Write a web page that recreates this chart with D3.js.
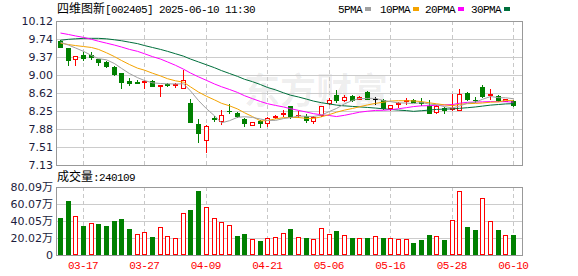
<!DOCTYPE html>
<html>
<head>
<meta charset="utf-8">
<script src="https://cdn.jsdelivr.net/npm/d3@7"></script>
<style>
  body { margin: 0; background: #fff; }
  svg { display: block; }
</style>
</head>
<body>
<svg id="chart" width="578" height="276"></svg>
<script>
// ---- data ----
const dates = ["03-12","03-13","03-14","03-17","03-18","03-19","03-20","03-21","03-24","03-25",
  "03-26","03-27","03-28","03-31","04-01","04-02","04-03","04-07","04-08","04-09",
  "04-10","04-11","04-14","04-15","04-16","04-17","04-18","04-21","04-22","04-23",
  "04-24","04-25","04-28","04-29","04-30","05-06","05-07","05-08","05-09","05-12",
  "05-13","05-14","05-15","05-16","05-19","05-20","05-21","05-22","05-23","05-26",
  "05-27","05-28","05-29","05-30","06-03","06-04","06-05","06-06","06-09","06-10"];

const open  = [9.70,9.55,9.33,9.42,9.41,9.33,9.26,9.16,9.03,8.87, 8.86,8.86,8.87,8.77,8.81,8.80,8.73,8.41,7.99,7.65,
  8.10,8.04,8.26,8.22,8.09,7.97,8.04,8.01,8.12,8.18, 8.35,8.16,8.14,8.04,8.17,8.42,8.59,8.49,8.56,8.51,
  8.64,8.50,8.49,8.32,8.39,8.46,8.49,8.43,8.36,8.24, 8.32,8.29,8.28,8.62,8.48,8.75,8.58,8.57,8.46,8.46];
const high  = [9.72,9.56,9.40,9.47,9.48,9.34,9.29,9.19,9.05,8.94, 8.90,8.89,8.90,8.80,8.83,8.84,9.10,8.51,8.08,7.96,
  8.15,8.28,8.39,8.24,8.10,8.02,8.07,8.12,8.16,8.28, 8.36,8.25,8.18,8.14,8.36,8.52,8.68,8.58,8.58,8.56,
  8.66,8.55,8.51,8.38,8.44,8.52,8.50,8.53,8.47,8.37, 8.34,8.61,8.70,8.64,8.54,8.80,8.70,8.59,8.51,8.48];
const low   = [9.57,9.20,9.20,9.31,9.34,9.20,9.17,8.99,8.72,8.79, 8.83,8.72,8.76,8.56,8.76,8.75,8.72,8.02,7.60,7.41,
  8.04,7.99,8.22,8.12,7.93,7.96,7.92,7.93,8.11,8.15, 8.11,8.12,8.03,8.01,8.15,8.40,8.44,8.46,8.46,8.50,
  8.50,8.40,8.30,8.28,8.34,8.40,8.43,8.37,8.21,8.22, 8.22,8.27,8.27,8.49,8.44,8.54,8.51,8.46,8.45,8.35];
const close = [9.59,9.30,9.40,9.36,9.37,9.26,9.18,9.01,8.86,8.83, 8.84,8.88,8.77,8.79,8.80,8.82,8.90,8.03,7.79,7.95,
  8.09,8.17,8.25,8.14,8.01,8.02,8.00,8.11,8.14,8.20, 8.12,8.17,8.07,8.13,8.35,8.49,8.48,8.55,8.48,8.55,
  8.50,8.50,8.31,8.37,8.42,8.48,8.44,8.42,8.21,8.36, 8.28,8.31,8.61,8.51,8.47,8.57,8.60,8.49,8.50,8.37];
const volume = [440000,640000,459000,342000,377000,365000,342000,400000,424000,306000,
  247000,271000,212000,330000,224000,200000,495000,530000,754000,565000,
  436000,389000,353000,224000,247000,188000,165000,200000,212000,259000,
  306000,212000,200000,188000,318000,247000,283000,236000,200000,200000,
  200000,224000,200000,200000,188000,188000,141000,177000,236000,224000,
  177000,412000,754000,330000,294000,671000,400000,294000,236000,240109];

const ma5  = [9.68,9.62,9.56,9.49,9.404,9.338,9.314,9.236,9.136,9.028, 8.944,8.884,8.836,8.822,8.816,8.812,8.816,8.668,8.468,8.298,
  8.152,8.006,8.05,8.12,8.132,8.118,8.084,8.056,8.056,8.094, 8.114,8.148,8.14,8.138,8.168,8.242,8.304,8.40,8.47,8.51,
  8.512,8.516,8.468,8.446,8.42,8.416,8.404,8.426,8.394,8.382, 8.342,8.316,8.354,8.414,8.436,8.494,8.552,8.528,8.526,8.506];
const ma10 = [9.66,9.63,9.61,9.59,9.57,9.53,9.46,9.38,9.30,9.216, 9.141,9.099,9.036,8.979,8.922,8.878,8.85,8.752,8.645,8.557,
  8.482,8.411,8.359,8.294,8.215,8.135,8.045,8.053,8.088,8.113, 8.116,8.116,8.098,8.097,8.131,8.178,8.226,8.27,8.304,8.339,
  8.377,8.41,8.434,8.458,8.465,8.464,8.46,8.447,8.42,8.401, 8.379,8.36,8.39,8.404,8.409,8.418,8.434,8.441,8.47,8.471];
const ma20 = [9.87,9.84,9.81,9.78,9.74,9.70,9.66,9.62,9.58,9.53, 9.49,9.44,9.38,9.33,9.27,9.20,9.12,9.04,8.96,8.887,
  8.812,8.755,8.698,8.637,8.569,8.507,8.448,8.403,8.367,8.335, 8.299,8.264,8.229,8.196,8.173,8.157,8.136,8.162,8.196,8.226,
  8.247,8.263,8.266,8.278,8.298,8.321,8.343,8.359,8.362,8.37, 8.378,8.385,8.412,8.431,8.437,8.441,8.447,8.444,8.445,8.436];
const ma30 = [9.72,9.74,9.75,9.76,9.76,9.76,9.75,9.73,9.71,9.68, 9.65,9.61,9.57,9.53,9.49,9.44,9.39,9.33,9.27,9.21,
  9.15,9.09,9.03,8.97,8.91,8.86,8.80,8.74,8.69,8.629, 8.58,8.542,8.498,8.457,8.423,8.397,8.374,8.358,8.346,8.336,
  8.325,8.312,8.297,8.283,8.27,8.259,8.244,8.257,8.271,8.284, 8.291,8.295,8.307,8.32,8.335,8.353,8.373,8.386,8.398,8.404];

const priceTicks = [10.12, 9.74, 9.37, 9.00, 8.62, 8.25, 7.88, 7.51, 7.13];
const volTicks = [800900, 600700, 400500, 200200, 0];
const dateTicks = ["03-17", "03-27", "04-09", "04-21", "05-06", "05-16", "05-28", "06-10"];
const maNames = ["5PMA", "10PMA", "20PMA", "30PMA"];

// ---- layout ----
const left = 56, right = 522;
const pTop = 21, pBottom = 165;
const vTop = 187, vBottom = 255;
const RED = "#ff0000", GREEN = "#008000", LABEL = "#1c1c3c";
const CJK = "'Noto Sans CJK SC', sans-serif";
const MONO = "'Liberation Mono', 'DejaVu Sans Mono', monospace";
const maColors = ["#a0a0a0", "#f4a300", "#ff00ff", "#006f3c"];

const svg = d3.select("#chart");

const x = d3.scaleBand().domain(dates).range([left, 517]);
const cx = d => Math.round(x(d) + x.bandwidth() / 2);
const y = d3.scaleLinear().domain([7.13, 10.12]).range([pBottom, pTop]);
const yv = d3.scaleLinear().domain([0, 800900]).range([vBottom, vTop]);

const data = dates.map((d, i) => ({
  date: d, o: open[i], h: high[i], l: low[i], c: close[i], v: volume[i],
  prev: i ? close[i - 1] : open[i]
}));
function candleDir(d) {
  if (d.c > d.o) return 1;
  if (d.c < d.o) return -1;
  return d.c > d.prev ? 1 : d.c < d.prev ? -1 : 0;
}
function volDir(d, i) {
  if (i === 0) return candleDir(d);
  return d.c >= d.prev ? 1 : -1;
}
const colorOf = s => s > 0 ? RED : s < 0 ? GREEN : "#000";

// watermark
svg.append("text")
  .attr("x", 244).attr("y", 104)
  .style("font-family", CJK).style("font-size", "36px").style("font-weight", "bold")
  .style("fill", "#000").style("fill-opacity", 0.07)
  .text("东方财富");

// grid lines
const grid = svg.append("g").attr("shape-rendering", "crispEdges");
grid.selectAll(".hp").data(priceTicks).enter().append("line")
  .attr("x1", left).attr("x2", right)
  .attr("y1", d => Math.round(y(d)) + 0.5).attr("y2", d => Math.round(y(d)) + 0.5)
  .attr("stroke", "#cccccc");
grid.selectAll(".hv").data(volTicks).enter().append("line")
  .attr("x1", left).attr("x2", right)
  .attr("y1", d => Math.round(yv(d)) + 0.5).attr("y2", d => Math.round(yv(d)) + 0.5)
  .attr("stroke", "#cccccc");
[[pTop, pBottom], [vTop, vBottom]].forEach(([t, b]) => {
  grid.selectAll(null).data(dateTicks).enter().append("line")
    .attr("x1", d => cx(d) + 0.5).attr("x2", d => cx(d) + 0.5)
    .attr("y1", t).attr("y2", b)
    .attr("stroke", "#c8c8c8").attr("stroke-dasharray", "4,3");
});

// candles
const candles = svg.append("g").selectAll("g").data(data).enter().append("g");
candles.append("line")
  .attr("x1", d => cx(d.date) + 0.5).attr("x2", d => cx(d.date) + 0.5)
  .attr("y1", d => Math.round(y(d.h))).attr("y2", d => Math.round(y(d.l)) + 1)
  .attr("stroke", d => colorOf(candleDir(d)));
candles.each(function(d) {
  const g = d3.select(this);
  const s = candleDir(d);
  const top = Math.round(y(Math.max(d.o, d.c)));
  const bot = Math.round(y(Math.min(d.o, d.c)));
  const c = cx(d.date);
  if (bot - top < 1) {
    g.append("line").attr("x1", c - 2).attr("x2", c + 3)
      .attr("y1", top + 0.5).attr("y2", top + 0.5)
      .attr("stroke", colorOf(s));
  } else if (s > 0) {
    g.append("rect").attr("x", c - 1.5).attr("y", top + 0.5)
      .attr("width", 4).attr("height", bot - top)
      .attr("fill", "#fff").attr("stroke", RED);
  } else {
    g.append("rect").attr("x", c - 2).attr("y", top)
      .attr("width", 5).attr("height", bot - top + 1)
      .attr("fill", colorOf(s));
  }
});

// moving averages
const clipP = svg.append("clipPath").attr("id", "clipP");
clipP.append("rect").attr("x", left).attr("y", pTop).attr("width", right - left).attr("height", pBottom - pTop);
const line = d3.line().x((v, i) => cx(dates[i]) + 0.5).y(v => y(v));
svg.append("g").attr("clip-path", "url(#clipP)")
  .selectAll("path").data([ma30, ma20, ma10, ma5]).enter().append("path")
  .attr("d", line)
  .attr("fill", "none")
  .attr("stroke", (d, i) => maColors[3 - i])
  .attr("stroke-width", 1);

// volume bars
svg.append("g").selectAll("g").data(data).enter().append("g").each(function(d, i) {
  const g = d3.select(this);
  const s = volDir(d, i);
  const top = Math.round(yv(d.v));
  const c = cx(d.date);
  if (s > 0) {
    g.append("rect").attr("x", c - 1.5).attr("y", top + 0.5)
      .attr("width", 4).attr("height", vBottom - top - 1)
      .attr("fill", "#fff").attr("stroke", RED);
  } else {
    g.append("rect").attr("x", c - 2).attr("y", top)
      .attr("width", 5).attr("height", vBottom - top)
      .attr("fill", GREEN);
  }
});

// frames
svg.append("rect").attr("x", left + 0.5).attr("y", pTop + 0.5)
  .attr("width", right - left).attr("height", pBottom - pTop)
  .attr("fill", "none").attr("stroke", "#999").attr("shape-rendering", "crispEdges");
svg.append("rect").attr("x", left + 0.5).attr("y", vTop + 0.5)
  .attr("width", right - left).attr("height", vBottom - vTop)
  .attr("fill", "none").attr("stroke", "#999").attr("shape-rendering", "crispEdges");

// axes
const yAxis = svg.append("g").attr("transform", `translate(${left},0)`)
  .call(d3.axisLeft(y).tickValues(priceTicks).tickFormat(d3.format(".2f")).tickSize(0).tickPadding(3));
const vAxis = svg.append("g").attr("transform", `translate(${left},0)`)
  .call(d3.axisLeft(yv).tickValues(volTicks)
    .tickFormat(d => d === 0 ? "0" : (d / 10000).toFixed(2) + "万").tickSize(0).tickPadding(3));
[yAxis, vAxis].forEach(a => {
  a.select(".domain").remove();
  a.selectAll("text")
    .style("font-family", "'DejaVu Sans', " + CJK)
    .style("font-size", "11px")
    .attr("fill", LABEL);
});
const xAxis = svg.append("g").attr("transform", `translate(0,${vBottom})`)
  .call(d3.axisBottom(x).tickValues(dateTicks).tickSize(0).tickPadding(6));
xAxis.select(".domain").remove();
xAxis.selectAll("text")
  .style("font-family", MONO).style("font-size", "11px").style("letter-spacing", "-0.6px")
  .attr("fill", RED);

// title
const title = svg.append("text").attr("x", 57).attr("y", 13).attr("fill", "#000");
title.append("tspan").style("font-family", CJK).style("font-size", "12px").text("四维图新");
title.append("tspan").style("font-family", MONO).style("font-size", "11px")
  .style("letter-spacing", "-0.6px").text("[002405] 2025-06-10 11:30");

// legend
const legendX = [338, 380, 425, 471];
const legend = svg.append("g").selectAll("g").data(maNames).enter().append("g")
  .attr("transform", (d, i) => `translate(${legendX[i]},0)`);
legend.append("text").attr("y", 13)
  .style("font-family", MONO).style("font-size", "11px").style("letter-spacing", "-0.6px")
  .attr("fill", "#000").text(d => d);
legend.append("rect").attr("x", d => d.length * 6 + 3).attr("y", 7)
  .attr("width", 6).attr("height", 4)
  .attr("fill", (d, i) => maColors[i]);

// volume caption
const cap = svg.append("text").attr("x", 57).attr("y", 181).attr("fill", "#000");
cap.append("tspan").style("font-family", CJK).style("font-size", "12px").text("成交量");
cap.append("tspan").style("font-family", MONO).style("font-size", "11px")
  .style("letter-spacing", "-0.6px").text(":" + volume[volume.length - 1]);
</script>
</body>
</html>
